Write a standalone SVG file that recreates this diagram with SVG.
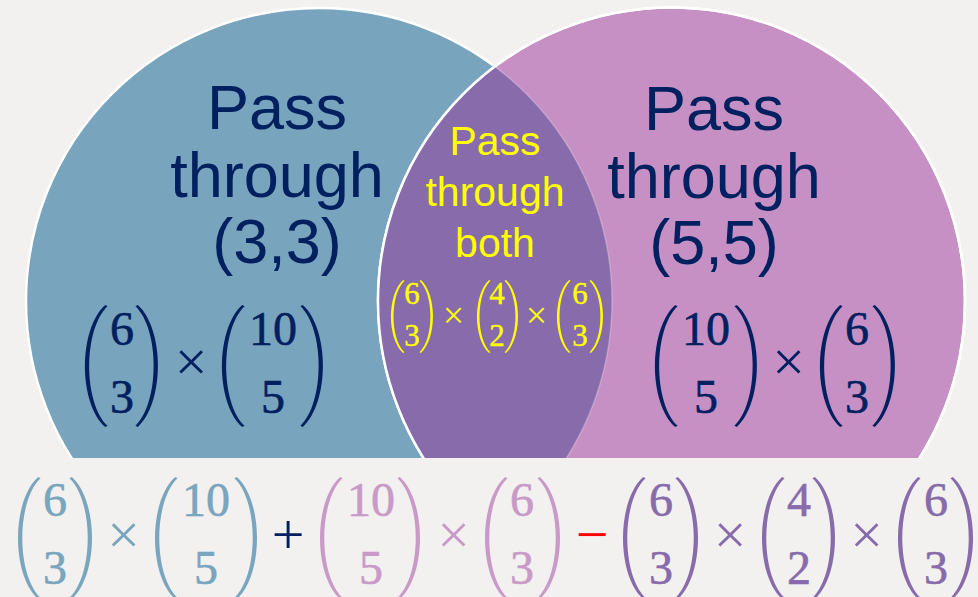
<svg xmlns="http://www.w3.org/2000/svg" xmlns:xlink="http://www.w3.org/1999/xlink" width="978" height="597" viewBox="0 0 978 597">
<style>
.lbl{font-family:"Liberation Sans",Arial,sans-serif;text-anchor:middle}
.big{font-size:63px;fill:#002060}
.mid{font-size:41px;fill:#ffff00}
.num{font-family:"Liberation Serif","Times New Roman",serif;text-anchor:middle}
.n48{font-size:48px;stroke-width:0.6px}
.n30{font-size:31px;stroke-width:0.4px}
.x58{font-size:58px}
.x38{font-size:38px}
.navy{fill:#002060}
.yel{fill:#ffff00}
.blu{fill:#79a5be}
.pnk{fill:#c99ac8}
.pur{fill:#876bab}
.red{fill:#ff0000}
text.n48.navy,text.n30.navy{stroke:#002060}
text.n30.yel{stroke:#ffff00}
text.n48.blu{stroke:#79a5be}
text.n48.pnk{stroke:#c99ac8}
text.n48.pur{stroke:#876bab}
</style>
<defs>
<path id="pl" d="M16.5,-50 C-5.5,-30 -5.5,30 16.5,50 L18.5,49 C-1.5,30 -1.5,-30 18.5,-49 Z"/>
<clipPath id="band"><rect x="0" y="0" width="978" height="458"/></clipPath>
<clipPath id="rc"><circle cx="671.5" cy="301" r="293.5"/></clipPath>
</defs>
<rect width="978" height="597" fill="#f2f1ef"/>
<g clip-path="url(#band)">
<g id="left-circle-shape"><circle cx="319" cy="301" r="293" fill="#79a4be" stroke="#ffffff" stroke-width="2.5"/></g>
<g id="right-circle-shape"><circle cx="671.5" cy="301" r="293.5" fill="#c690c4" stroke="#ffffff" stroke-width="2.5"/></g>
<g id="overlap-shape">
<circle cx="319" cy="301" r="293" fill="#886bab" clip-path="url(#rc)"/>
<circle cx="319" cy="301" r="293" fill="none" stroke="#ffffff" stroke-opacity="0.25" stroke-width="1.5"/>
<circle cx="671.5" cy="301" r="293.5" fill="none" stroke="#ffffff" stroke-width="2.5"/>
</g>
</g>
<g id="left-circle">
<text class="lbl big"><tspan x="277" y="129">Pass</tspan><tspan x="277" y="197">through</tspan><tspan x="277" y="263">(3,3)</tspan></text>
<g class="navy">
<use xlink:href="#pl" transform="translate(85,366) scale(1.22)"/>
<use xlink:href="#pl" transform="translate(158,366) scale(-1.22,1.22)"/>
<use xlink:href="#pl" transform="translate(222,366) scale(1.22)"/>
<use xlink:href="#pl" transform="translate(323,366) scale(-1.22,1.22)"/>
</g>
<text class="num n48 navy" x="122" y="345">6</text>
<text class="num n48 navy" x="122" y="413">3</text>
<text class="num x58 navy" x="191" y="381">×</text>
<text class="num n48 navy" x="273" y="345">10</text>
<text class="num n48 navy" x="273" y="413">5</text>
</g>
<g id="right-circle">
<text class="lbl big"><tspan x="714" y="130">Pass</tspan><tspan x="714" y="198">through</tspan><tspan x="714" y="264">(5,5)</tspan></text>
<g class="navy">
<use xlink:href="#pl" transform="translate(655,366) scale(1.22)"/>
<use xlink:href="#pl" transform="translate(757,366) scale(-1.22,1.22)"/>
<use xlink:href="#pl" transform="translate(820,366) scale(1.22)"/>
<use xlink:href="#pl" transform="translate(895,366) scale(-1.22,1.22)"/>
</g>
<text class="num n48 navy" x="706" y="345">10</text>
<text class="num n48 navy" x="706" y="413">5</text>
<text class="num x58 navy" x="788.5" y="381">×</text>
<text class="num n48 navy" x="857" y="345">6</text>
<text class="num n48 navy" x="857" y="413">3</text>
</g>
<g id="overlap">
<text class="lbl mid"><tspan x="495" y="155">Pass</tspan><tspan x="495" y="206">through</tspan><tspan x="495" y="257">both</tspan></text>
<g class="yel">
<use xlink:href="#pl" transform="translate(391,316.5) scale(0.73)"/>
<use xlink:href="#pl" transform="translate(433,316.5) scale(-0.73,0.73)"/>
<use xlink:href="#pl" transform="translate(477,316.5) scale(0.73)"/>
<use xlink:href="#pl" transform="translate(518,316.5) scale(-0.73,0.73)"/>
<use xlink:href="#pl" transform="translate(557,316.5) scale(0.73)"/>
<use xlink:href="#pl" transform="translate(603,316.5) scale(-0.73,0.73)"/>
</g>
<text class="num n30 yel" x="412" y="304">6</text>
<text class="num n30 yel" x="412" y="346">3</text>
<text class="num x38 yel" x="453.5" y="328">×</text>
<text class="num n30 yel" x="497" y="304">4</text>
<text class="num n30 yel" x="497" y="346">2</text>
<text class="num x38 yel" x="536.5" y="328">×</text>
<text class="num n30 yel" x="580" y="304">6</text>
<text class="num n30 yel" x="580" y="346">3</text>
</g>
<g id="formula">
<g class="blu">
<use xlink:href="#pl" transform="translate(18,538) scale(1.22)"/>
<use xlink:href="#pl" transform="translate(92,538) scale(-1.22,1.22)"/>
<use xlink:href="#pl" transform="translate(155,538) scale(1.22)"/>
<use xlink:href="#pl" transform="translate(257,538) scale(-1.22,1.22)"/>
</g>
<text class="num n48 blu" x="55" y="516">6</text>
<text class="num n48 blu" x="55" y="584">3</text>
<text class="num x58 blu" x="123.5" y="554">×</text>
<text class="num n48 blu" x="206" y="516">10</text>
<text class="num n48 blu" x="206" y="584">5</text>
<text class="num x58 navy" x="288" y="554">+</text>
<g class="pnk">
<use xlink:href="#pl" transform="translate(320,538) scale(1.22)"/>
<use xlink:href="#pl" transform="translate(420,538) scale(-1.22,1.22)"/>
<use xlink:href="#pl" transform="translate(485,538) scale(1.22)"/>
<use xlink:href="#pl" transform="translate(560,538) scale(-1.22,1.22)"/>
</g>
<text class="num n48 pnk" x="371" y="516">10</text>
<text class="num n48 pnk" x="371" y="584">5</text>
<text class="num x58 pnk" x="453.5" y="554">×</text>
<text class="num n48 pnk" x="522" y="516">6</text>
<text class="num n48 pnk" x="522" y="584">3</text>
<text class="num x58 red" x="592" y="554">−</text>
<g class="pur">
<use xlink:href="#pl" transform="translate(623,538) scale(1.22)"/>
<use xlink:href="#pl" transform="translate(698,538) scale(-1.22,1.22)"/>
<use xlink:href="#pl" transform="translate(762,538) scale(1.22)"/>
<use xlink:href="#pl" transform="translate(835,538) scale(-1.22,1.22)"/>
<use xlink:href="#pl" transform="translate(898,538) scale(1.22)"/>
<use xlink:href="#pl" transform="translate(973,538) scale(-1.22,1.22)"/>
</g>
<text class="num n48 pur" x="661" y="516">6</text>
<text class="num n48 pur" x="661" y="584">3</text>
<text class="num x58 pur" x="730" y="554">×</text>
<text class="num n48 pur" x="799" y="516">4</text>
<text class="num n48 pur" x="799" y="584">2</text>
<text class="num x58 pur" x="866.5" y="554">×</text>
<text class="num n48 pur" x="936" y="516">6</text>
<text class="num n48 pur" x="936" y="584">3</text>
</g>
</svg>
